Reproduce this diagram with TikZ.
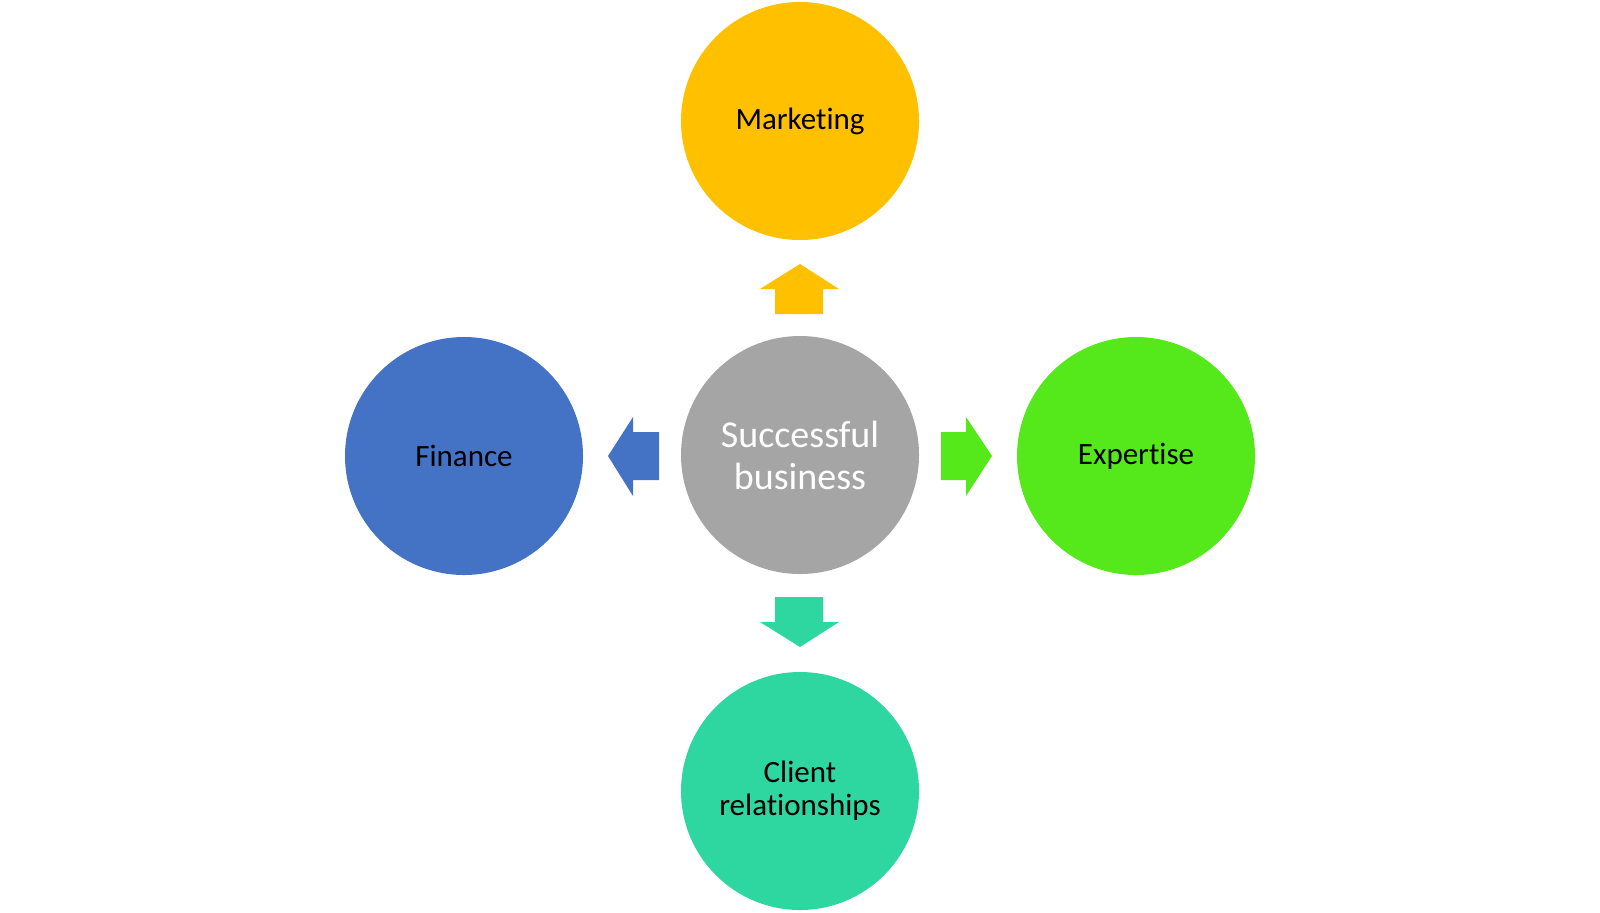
\documentclass[tikz,border=0pt]{standalone}
\usepackage{fontspec}
\setmainfont{Carlito}[Ligatures=NoCommon]
\definecolor{coregray}{HTML}{A5A5A5}
\definecolor{mktgold}{HTML}{FFC000}
\definecolor{finblue}{HTML}{4472C4}
\definecolor{expgreen}{HTML}{55E81B}
\definecolor{clientteal}{HTML}{2ED6A0}
\tikzset{
  bubble/.style={circle, minimum size=119pt, inner sep=0pt, align=center,
    font=\fontsize{15.5}{16.3}\selectfont},
}
\begin{document}
\begin{tikzpicture}[x=0.5pt, y=-0.5pt]
  \useasboundingbox (0,0) rectangle (1600,912);
  % circles
  \node[bubble, fill=coregray, text=white, font=\fontsize{19}{21}\selectfont] (core) at (800,455) {Successful\\business};
  \node[bubble, fill=mktgold] (mkt) at (800,121) {Marketing};
  \node[bubble, fill=finblue] (fin) at (464,456) {Finance};
  \node[bubble, fill=expgreen] (exp) at (1136,456) {Expertise};
  \node[bubble, fill=clientteal] (client) at (800,791) {Client\\relationships};
  % block arrows
  \fill[mktgold] (800,264) -- (839,289) -- (823,289) -- (823,314) -- (775,314) -- (775,289) -- (760,289) -- cycle;
  \fill[clientteal] (800,647) -- (839,622) -- (823,622) -- (823,597) -- (775,597) -- (775,622) -- (760,622) -- cycle;
  \fill[finblue] (608,456) -- (633,417) -- (633,432) -- (659,432) -- (659,480) -- (633,480) -- (633,496) -- cycle;
  \fill[expgreen] (992,456) -- (966,417) -- (966,432) -- (941,432) -- (941,480) -- (966,480) -- (966,496) -- cycle;
\end{tikzpicture}
\end{document}
